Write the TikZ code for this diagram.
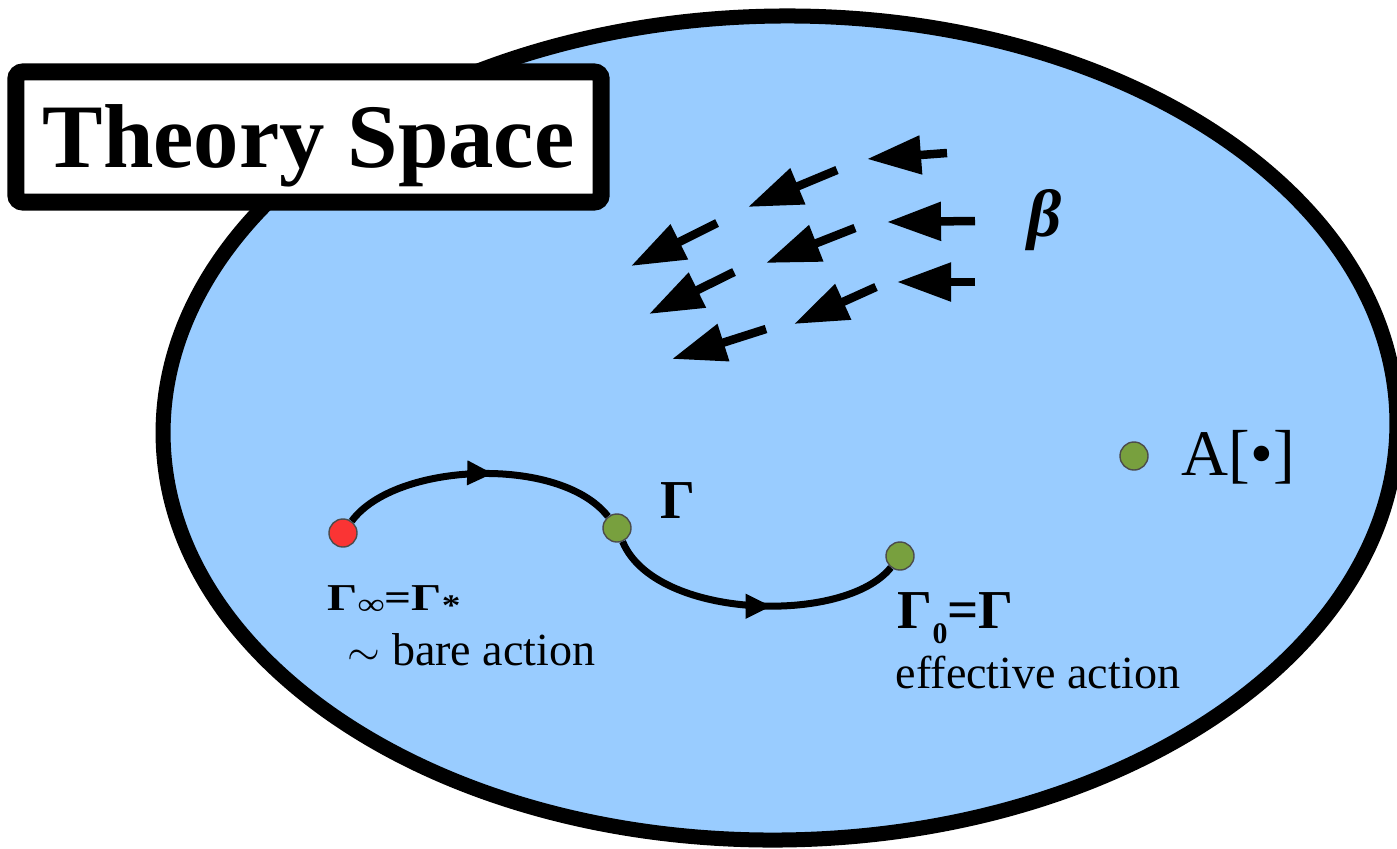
\documentclass[tikz,border=0pt]{standalone}
\usepackage{fontspec}
\setmainfont{Liberation Serif}
\newfontfamily\wideserif[FakeStretch=1.25]{Liberation Serif}
\usetikzlibrary{arrows.meta,decorations.markings}

\definecolor{spaceblue}{RGB}{153,204,255}
\definecolor{dotred}{RGB}{250,52,52}
\definecolor{dotgreen}{RGB}{120,160,62}

\tikzset{
    flowdot/.style={circle, inner sep=0pt, minimum size=0.28cm, draw=black!70, line width=0.4pt},
    flowpath/.style={line width=0.07cm, postaction={decorate},
        decoration={markings, mark=at position #1 with {\arrow{Triangle[length=0.26cm, width=0.23cm]}}}},
    flowpath/.default=0.5,
    betaarrow/.style={line width=0.085cm, -{Triangle[length=0.54cm, width=0.37cm]}},
    txtlabel/.style={inner sep=0pt, anchor=base west}
}

\begin{document}
\begin{tikzpicture}[x=0.01cm, y=-0.01cm]
    \useasboundingbox (0,0) rectangle (1397,848);

    % Theory space
    \draw[fill=spaceblue, line width=0.15cm, rotate around={0.8:(780,428)}]
        (780,428) ellipse [x radius=617, y radius=412];

    % Title
    \node[draw, fill=white, line width=0.17cm, rounded corners=2pt, inner sep=0pt,
          minimum width=5.85cm, minimum height=1.30cm, text height=17.1pt, text depth=0pt,
          font=\bfseries\fontsize{25.8pt}{30pt}\selectfont] (title) at (308.5,137) {Theory Space};

    % Beta function flow
    \foreach \tx/\ty/\hx/\hy in {947/153/867/159, 837/170/748/207, 975/221/887/222,
                                 717/223/631/266, 855/228/766/263, 975/282/897/282,
                                 734/272/649/314, 876/287/794/324, 766/329/672/359} {
        \draw[betaarrow] (\tx,\ty) -- (\hx,\hy);
    }
    \node[font=\bfseries\itshape\fontsize{19pt}{22pt}\selectfont] (beta) at (1045,220) {β};

    % RG trajectory
    \node[flowdot, fill=dotred] (inf) at (343,533) {};
    \node[flowdot, fill=dotgreen] (gam) at (617,528) {};
    \node[flowdot, fill=dotgreen] (gamzero) at (900,556) {};
    \draw[flowpath=0.55] (inf) .. controls (395,462) and (560,455) .. (gam);
    \draw[flowpath=0.57] (gam) .. controls (655,620) and (845,625) .. (gamzero);

    % Some other action
    \node[flowdot, fill=dotgreen] (act) at (1134,456) {};

    % Labels
    \node[txtlabel, font=\bfseries\fontsize{15.6pt}{18pt}\selectfont] (gamlabel) at (660,518) {Γ};
    \node[txtlabel, font=\wideserif\bfseries\fontsize{10.8pt}{12pt}\selectfont] (inflabel) at (327,610)
        {Γ\raisebox{-1.2pt}{\fontsize{8.5pt}{9pt}\selectfont ∞}=Γ\raisebox{-1.5pt}{\fontsize{8.5pt}{9pt}\selectfont *}};
    \node[txtlabel, font=\fontsize{13.1pt}{15pt}\selectfont] (bare) at (347,665) {$\sim$ bare action};
    \node[txtlabel, font=\bfseries\fontsize{15.6pt}{18pt}\selectfont] (zerolabel) at (897,628)
        {Γ\raisebox{-4.3pt}{\fontsize{8.5pt}{9pt}\selectfont 0}=Γ};
    \node[txtlabel, font=\fontsize{13.1pt}{15pt}\selectfont] (effective) at (895,688) {effective action};
    \node[txtlabel, font=\fontsize{18.5pt}{21pt}\selectfont] (actlabel) at (1181,475) {A[•]};
\end{tikzpicture}
\end{document}
